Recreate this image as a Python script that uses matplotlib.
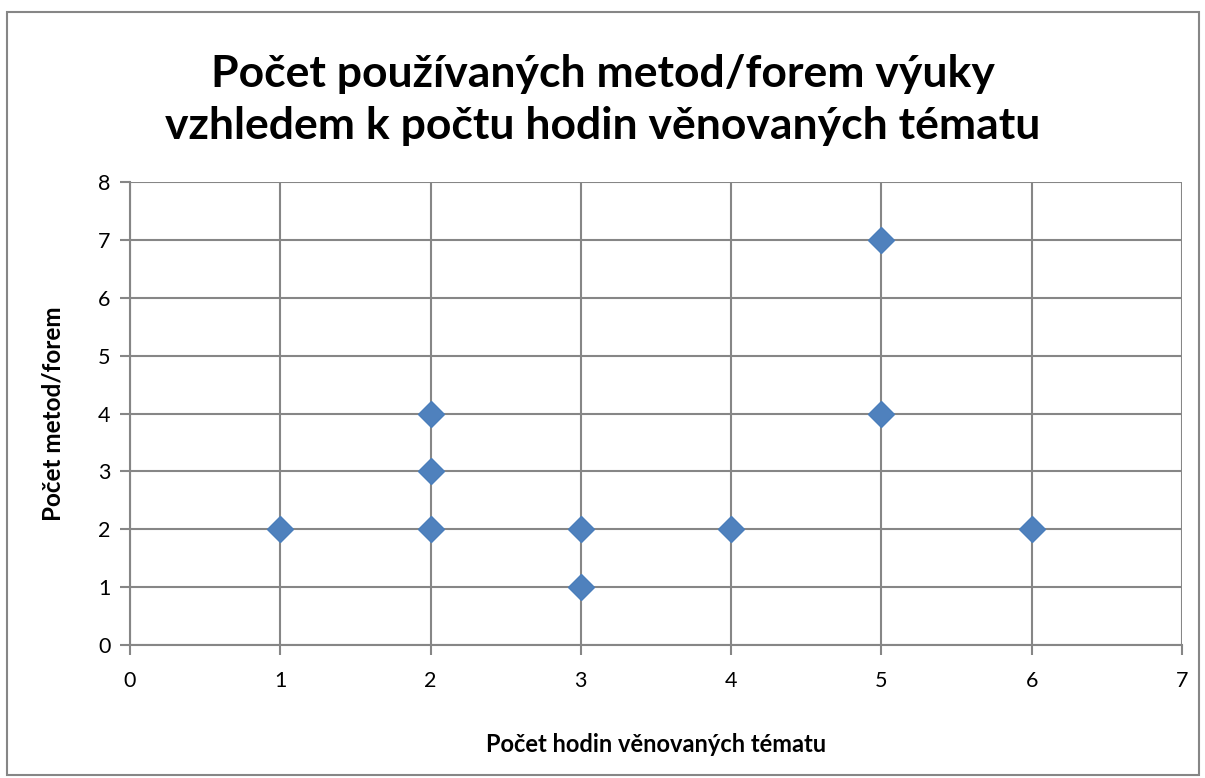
import matplotlib
matplotlib.use("Agg")
import matplotlib.pyplot as plt
from matplotlib.patches import Rectangle

hours = [1, 2, 2, 2, 3, 3, 4, 5, 5, 6]
methods = [2, 2, 3, 4, 1, 2, 2, 4, 7, 2]
x_ticks = [0, 1, 2, 3, 4, 5, 6, 7]
y_ticks = [0, 1, 2, 3, 4, 5, 6, 7, 8]

title = "Počet používaných metod/forem výuky\nvzhledem k počtu hodin věnovaných tématu"
xlabel = "Počet hodin věnovaných tématu"
ylabel = "Počet metod/forem"

plt.rcParams['font.family'] = ['Lato', 'DejaVu Sans']
W, H = 1205, 778
fig = plt.figure(figsize=(W/100, H/100), dpi=100)
fig.patches.append(Rectangle((7/W, 1 - 775/H), (1199-7)/W, (775-12)/H,
                             transform=fig.transFigure, fill=False,
                             edgecolor='#868686', linewidth=1.5))

ax = fig.add_axes([130/W, 1 - 645/H, (1182-130)/W, (645-182)/H])
grid_c = '#868686'
ax.set_xlim(0, 7)
ax.set_ylim(0, 8)
ax.set_xticks(x_ticks)
ax.set_yticks(y_ticks)
ax.grid(True, color=grid_c, linewidth=1.5)
ax.set_axisbelow(True)
for s in ['top', 'right']:
    ax.spines[s].set_visible(False)
for s in ['left', 'bottom']:
    ax.spines[s].set_color(grid_c)
    ax.spines[s].set_linewidth(1.5)
ax.tick_params(axis='both', colors=grid_c, length=7, width=1.5,
               labelcolor='black', labelsize=15.5, pad=7)
ax.tick_params(axis='x', pad=12)

ax.plot(hours, methods, linestyle='none', marker='D', markersize=13.5,
        markerfacecolor='#4F81BD', markeredgecolor='#4A7EBB', clip_on=False)

ax.set_xlabel(xlabel, fontsize=17, fontweight='bold', labelpad=30)
ax.set_ylabel(ylabel, fontsize=17.5, fontweight='bold', labelpad=24)
fig.text(0.5, 1 - 100/H, title, ha='center', va='center', fontsize=32,
         fontweight='bold', linespacing=1.35)

fig.savefig("out.png", dpi=100)
